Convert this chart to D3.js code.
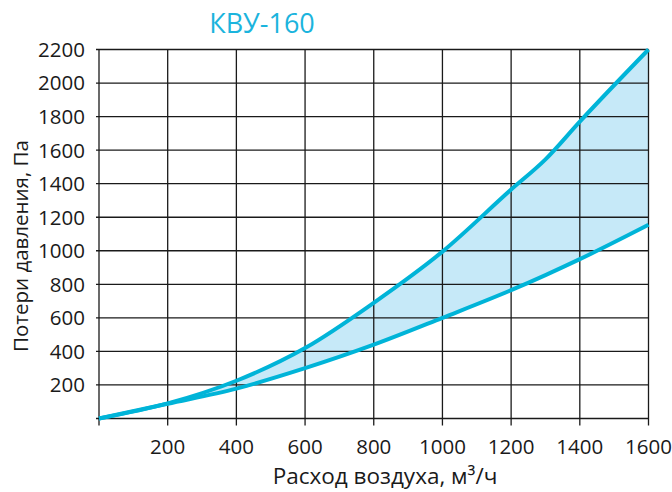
<!DOCTYPE html>
<html><head><meta charset="utf-8">
<script src="https://cdn.jsdelivr.net/npm/d3@7"></script>
<style>body{margin:0;background:#fff}svg{display:block;font-family:"Open Sans",sans-serif}</style>
</head><body><svg id="c" width="672" height="492"></svg>
<script>
const title = "КВУ-160";
const xLabel = "Расход воздуха, м³/ч";
const yLabel = "Потери давления, Па";
const flow = [0, 200, 400, 600, 800, 1000, 1200, 1300, 1400, 1600];
const upperLoss = [0, 90, 225, 420, 690, 995, 1365, 1545, 1770, 2200];
const lowerLoss = [0, 88, 178, 300, 440, 600, 765, 855, 950, 1155];
const xTicks = [200, 400, 600, 800, 1000, 1200, 1400, 1600];
const yTicks = [200, 400, 600, 800, 1000, 1200, 1400, 1600, 1800, 2000, 2200];

const svg = d3.select("#c");
const x = d3.scaleLinear().domain([0, 1600]).range([99, 648.5]);
const y = d3.scaleLinear().domain([0, 2200]).range([418.5, 49.5]);
const data = flow.map((f, i) => ({f, u: upperLoss[i], l: lowerLoss[i]}));

svg.append("clipPath").attr("id", "clp").append("rect")
  .attr("x", x(0)).attr("y", y(2200) - 1).attr("width", x(1600) - x(0)).attr("height", y(0) - y(2200) + 6);

// fill
svg.append("path").datum(data)
  .attr("clip-path", "url(#clp)")
  .attr("fill", "#c6e9f8")
  .attr("d", d3.area().x(d => x(d.f)).y0(d => y(d.l)).y1(d => y(d.u)).curve(d3.curveMonotoneX));

// grid
const g = svg.append("g").attr("stroke", "#1a1a1a").attr("stroke-width", 1.3);
g.selectAll(".v").data([0, ...xTicks]).join("line")
  .attr("x1", d => x(d)).attr("x2", d => x(d))
  .attr("y1", y(2200)).attr("y2", y(0) + 7);
g.selectAll(".h").data([0, ...yTicks]).join("line")
  .attr("x1", x(0) - 3).attr("x2", x(1600))
  .attr("y1", d => y(d)).attr("y2", d => y(d));

// curves
const line = key => d3.line().x(d => x(d.f)).y(d => y(d[key])).curve(d3.curveMonotoneX);
["u", "l"].forEach(k => {
  svg.append("path").datum(data)
    .attr("fill", "none").attr("stroke", "#00b4d8").attr("stroke-width", 4)
    .attr("d", line(k)(data));
});

// tick labels
svg.append("g").selectAll("text").data(yTicks).join("text")
  .attr("x", 85).attr("y", d => y(d)).attr("dy", "0.36em")
  .attr("text-anchor", "end").attr("font-size", 20.5).attr("fill", "#1a1a1a")
  .text(d => d);
svg.append("g").selectAll("text").data(xTicks).join("text")
  .attr("x", d => x(d)).attr("y", 454)
  .attr("text-anchor", "middle").attr("font-size", 20.5).attr("fill", "#1a1a1a")
  .text(d => d);

// titles
svg.append("text").attr("x", 262).attr("y", 33).attr("text-anchor", "middle")
  .attr("font-size", 27).attr("fill", "#1bb4dd").text(title);
svg.append("text").attr("x", 385).attr("y", 484).attr("text-anchor", "middle")
  .attr("font-size", 22.5).attr("fill", "#1a1a1a").text(xLabel);
svg.append("text").attr("transform", "translate(28,246) rotate(-90)").attr("text-anchor", "middle")
  .attr("font-size", 20.5).attr("fill", "#1a1a1a").text(yLabel);
</script></body></html>
